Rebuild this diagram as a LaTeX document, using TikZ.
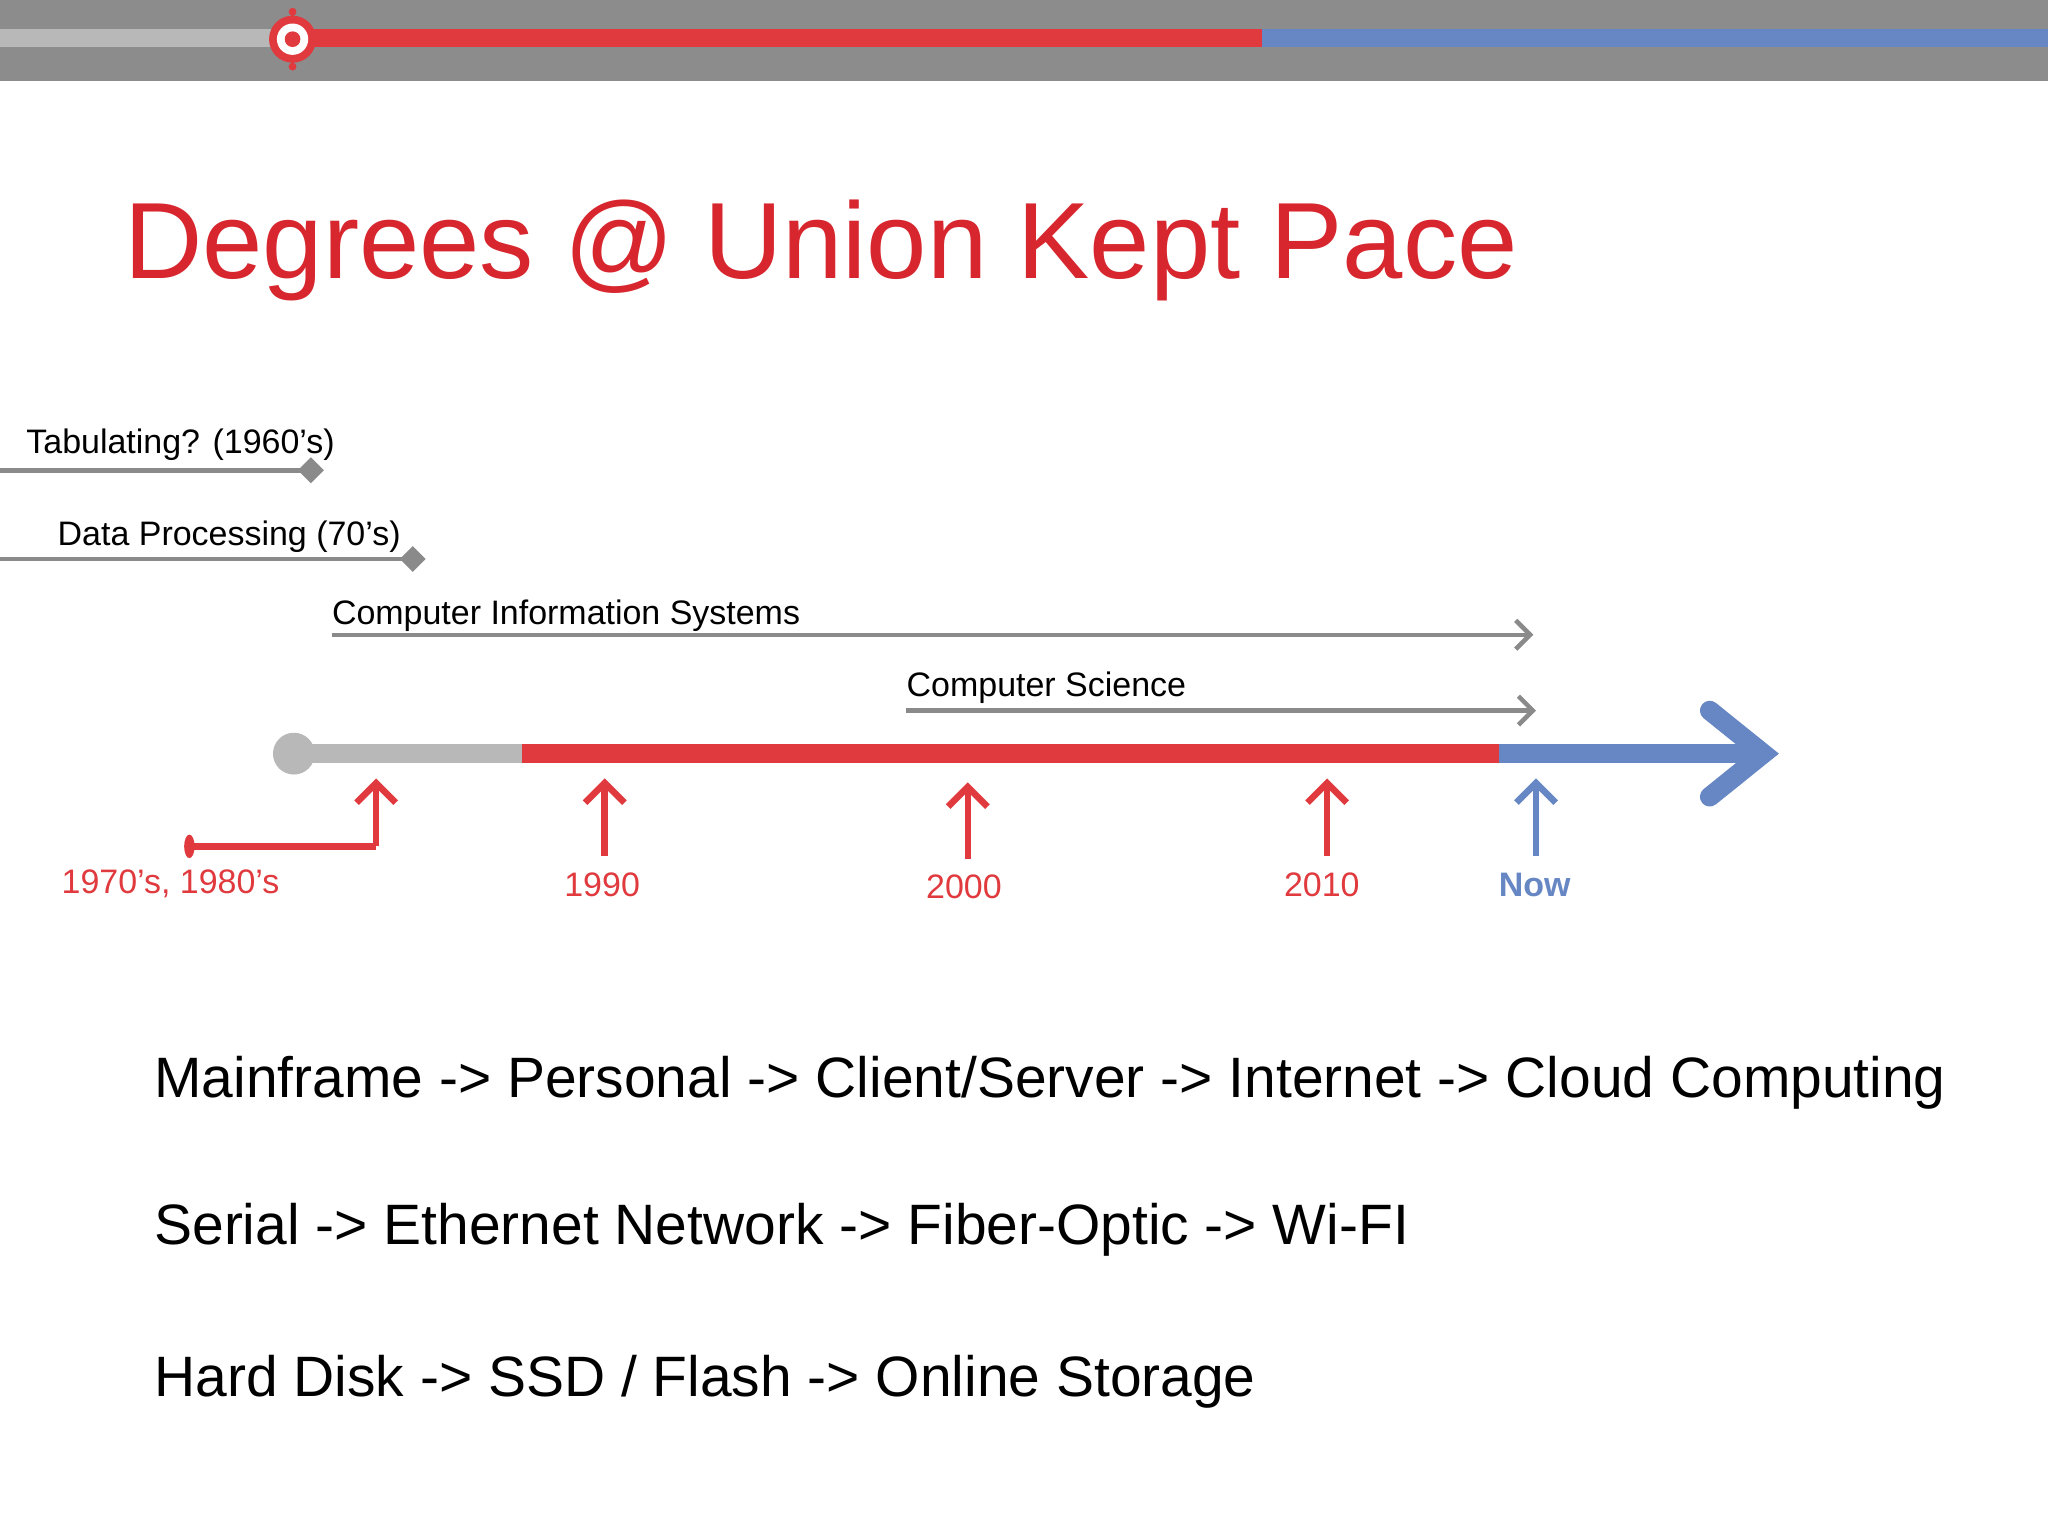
\documentclass[tikz,border=0pt]{standalone}
\usepackage{fontspec}
\setmainfont{Liberation Sans}
\usetikzlibrary{arrows.meta,shapes.geometric}
\definecolor{rd}{HTML}{E03A3E}
\definecolor{tred}{HTML}{D7262E}
\definecolor{bl}{HTML}{6687C4}
\definecolor{gy}{HTML}{8C8C8C}
\definecolor{lg}{HTML}{B8B8B8}
\definecolor{ln}{HTML}{8A8A8A}
\begin{document}
\begin{tikzpicture}[x=1pt,y=-1pt,
  lbl/.style={font=\fontsize{26}{28}\selectfont,anchor=base west,inner sep=0},
  big/.style={font=\fontsize{43.6}{50}\selectfont,anchor=base west,inner sep=0},
  yr/.style={font=\fontsize{26}{28}\selectfont,text=rd,anchor=base,inner sep=0},
  gline/.style={draw=ln,line width=3.5pt},
  upr/.style={draw=rd,line width=5pt,-{Straight Barb[length=15pt,width=30pt,line width=5pt]}},
  upb/.style={draw=bl,line width=5pt,-{Straight Barb[length=15pt,width=30pt,line width=5pt]}}]
\useasboundingbox (0,0) rectangle (1568,1176);
\fill[white] (0,0) rectangle (1568,1176);
% top bar
\fill[gy] (0,0) rectangle (1568,62);
\fill[lg] (0,22) rectangle (224,36);
\fill[rd] (224,22) rectangle (966,36);
\fill[bl] (966,22) rectangle (1568,36);
\draw[rd,line width=2pt] (224,9) -- (224,51);
\fill[rd] (224,9) circle (3) (224,51) circle (3);
\node[circle,fill=rd,minimum size=36pt,inner sep=0] (mk) at (224,30) {};
\fill[white] (224,30) circle (12);
\fill[rd] (224,30) circle (6);
% title
\node[font=\fontsize{83}{90}\selectfont,text=tred,anchor=base west,inner sep=0] (title) at (95,213) {Degrees @ Union Kept Pace};
% grey lines
\node[lbl] (tab) at (20,347) {Tabulating? (1960’s)};
\coordinate (t0) at (0,360);
\node[diamond,fill=ln,minimum size=20pt,inner sep=0,draw=none] (td) at (238,360) {};
\draw[gline] (t0) -- (td.center);
\node[lbl] (dp) at (44,418) {Data Processing (70’s)};
\coordinate (d0) at (0,428);
\node[diamond,fill=ln,minimum size=20pt,inner sep=0] (dd) at (316,428) {};
\draw[gline] (d0) -- (dd.center);
\node[lbl] (cis) at (254,478) {Computer Information Systems};
\coordinate (c0) at (254,486); \coordinate (c1) at (1174,486);
\draw[gline,-{Straight Barb[length=11pt,width=22pt,line width=3.5pt]}] (c0) -- (c1);
\node[lbl] (cs) at (694,533) {Computer Science};
\coordinate (s0) at (694,544); \coordinate (s1) at (1176,544);
\draw[gline,-{Straight Barb[length=11pt,width=22pt,line width=3.5pt]}] (s0) -- (s1);
% main timeline
\coordinate (m0) at (225,577); \coordinate (m1) at (400,577); \coordinate (m2) at (1148,577); \coordinate (m3) at (1350,577);
\draw[lg,line width=15pt] (m0) -- (m1);
\draw[rd,line width=15pt] (m1) -- (m2);
\draw[bl,line width=15pt] (m2) -- (1340,577);
\draw[bl,line width=15pt,line cap=round,line join=miter] (1309,544) -- (m3) -- (1309,610);
\node[circle,fill=lg,minimum size=32pt,inner sep=0] (start) at (m0) {};
% up arrows
\coordinate (b0) at (145,648); \coordinate (b1) at (288,648); \coordinate (b2) at (288,596);
\fill[rd] (b0) ellipse (4 and 9);
\draw[rd,line width=5pt] (b0) -- (b1);
\draw[upr] (b1) -- (b2);
\coordinate (a1) at (463,655); \coordinate (a1t) at (463,596);
\draw[upr] (a1) -- (a1t);
\coordinate (a2) at (741,658); \coordinate (a2t) at (741,599);
\draw[upr] (a2) -- (a2t);
\coordinate (a3) at (1016,655); \coordinate (a3t) at (1016,596);
\draw[upr] (a3) -- (a3t);
\coordinate (a4) at (1176,655); \coordinate (a4t) at (1176,596);
\draw[upb] (a4) -- (a4t);
\node[yr,anchor=base west] (y70) at (47,684) {1970’s, 1980’s};
\node[yr] (y90) at (461,686) {1990};
\node[yr] (y00) at (738,688) {2000};
\node[yr] (y10) at (1012,686) {2010};
\node[yr,text=bl,font=\bfseries\fontsize{26}{28}\selectfont] (now) at (1175,686) {Now};
% bottom text
\node[big] (l1) at (118,840) {Mainframe -> Personal -> Client/Server -> Internet -> Cloud Computing};
\node[big] (l2) at (118,953) {Serial -> Ethernet Network -> Fiber-Optic -> Wi-FI};
\node[big] (l3) at (118,1069) {Hard Disk -> SSD / Flash -> Online Storage};
\end{tikzpicture}
\end{document}
